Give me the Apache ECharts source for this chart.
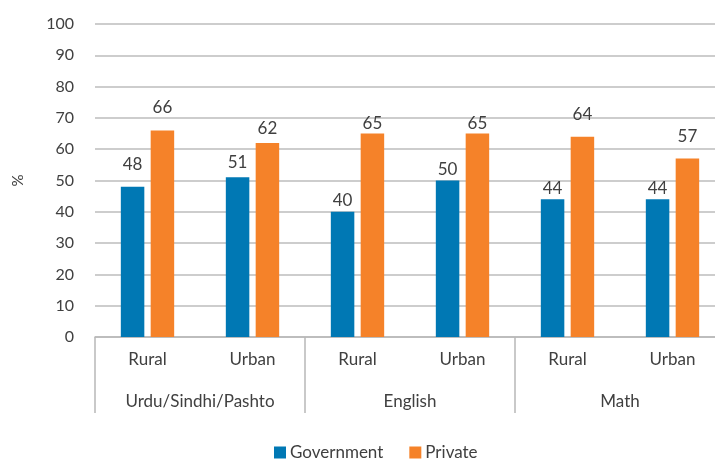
<!DOCTYPE html>
<html>
<head>
<meta charset="utf-8">
<script src="https://cdn.jsdelivr.net/npm/echarts@6/dist/echarts.min.js"></script>
<style>
  html, body { margin: 0; padding: 0; background: #fff; overflow: hidden; }
  /* plot runs slightly past the right edge of the picture, as in the original */
  #main { width: 725px; height: 462px; }
</style>
</head>
<body>
<div id="main"></div>
<script>
var subCats = ['Rural', 'Urban', 'Rural', 'Urban', 'Rural', 'Urban'];
var groupCats = ['Urdu/Sindhi/Pashto', 'English', 'Math'];
var government = [48, 51, 40, 50, 44, 44];
var privateSch = [66, 62, 65, 65, 64, 57];
var yTicks = [0, 10, 20, 30, 40, 50, 60, 70, 80, 90, 100];

// label gap above each bar (Excel placed some labels tight)
var govGap = [14, 6, 3, 2, 2, 2];
var priGap = [14, 6, 2, 2, 14, 14];

function withGap(vals, gaps) {
    var out = [];
    for (var i = 0; i < vals.length; i++) {
        out.push({ value: vals[i], label: { distance: gaps[i] } });
    }
    return out;
}

var font = 'Lato, "Open Sans", sans-serif';
var txt = '#404040';

var myChart = echarts.init(document.getElementById('main'));
var option = {
    textStyle: { fontFamily: font },
    animation: false,
    color: ['#0078b4', '#f58229'],
    grid: { left: 95, right: 0, top: 24, bottom: 125 },
    legend: {
        data: ['Government', 'Private'],
        left: 274,
        top: 444,
        padding: 0,
        itemWidth: 12,
        itemHeight: 12,
        itemGap: 26,
        icon: 'rect',
        textStyle: { fontSize: 17, color: txt, fontFamily: font, padding: [0, 0, 0, -1] }
    },
    xAxis: [
        {
            type: 'category',
            data: subCats,
            position: 'bottom',
            axisLine: { lineStyle: { color: '#b8b8b8', width: 1.5 } },
            axisTick: { show: false },
            axisLabel: { color: txt, fontSize: 17, margin: 14, fontFamily: font }
        },
        {
            type: 'category',
            data: groupCats,
            position: 'bottom',
            axisLine: { show: false },
            axisTick: { show: true, length: 76, lineStyle: { color: '#b8b8b8', width: 1.5 } },
            axisLabel: { color: txt, fontSize: 17, margin: 56, fontFamily: font }
        }
    ],
    yAxis: {
        type: 'value',
        min: yTicks[0],
        max: yTicks[yTicks.length - 1],
        interval: 10,
        name: '%',
        nameLocation: 'middle',
        nameGap: 69,
        nameRotate: 90,
        nameTextStyle: { color: txt, fontSize: 15, fontFamily: font },
        axisLine: { show: false },
        axisTick: { show: false },
        axisLabel: { color: txt, fontSize: 16, margin: 21, fontFamily: font },
        splitLine: { lineStyle: { color: '#bdbdbd', width: 1.5 } }
    },
    series: [
        {
            name: 'Government',
            type: 'bar',
            xAxisIndex: 0,
            barWidth: 23.5,
            barGap: '27%',
            data: withGap(government, govGap),
            label: { show: true, position: 'top', color: txt, fontSize: 17, fontFamily: font }
        },
        {
            name: 'Private',
            type: 'bar',
            xAxisIndex: 0,
            barWidth: 23.5,
            data: withGap(privateSch, priGap),
            label: { show: true, position: 'top', color: txt, fontSize: 17, fontFamily: font }
        }
    ]
};
myChart.setOption(option);
</script>
</body>
</html>
